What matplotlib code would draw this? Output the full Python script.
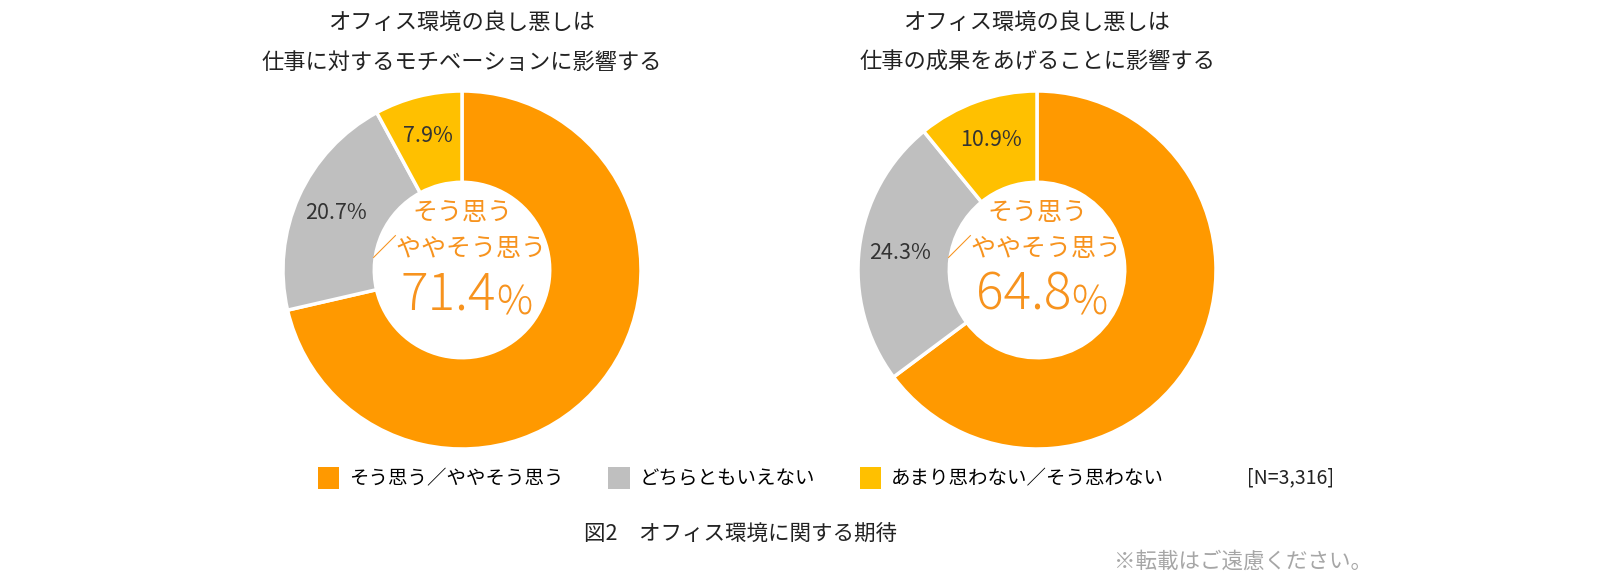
import numpy as np
import matplotlib
matplotlib.use("Agg")
from matplotlib import pyplot as plt
from matplotlib.patches import Patch

plt.rcParams['font.family'] = ['Noto Sans CJK JP', 'DejaVu Sans']

categories = ['そう思う／ややそう思う', 'どちらともいえない', 'あまり思わない／そう思わない']
titles = ['オフィス環境の良し悪しは\n仕事に対するモチベーションに影響する',
          'オフィス環境の良し悪しは\n仕事の成果をあげることに影響する']
motivation = [71.4, 20.7, 7.9]
performance = [64.8, 24.3, 10.9]
n_label = '[N=3,316]'
caption = '図2\u3000オフィス環境に関する期待'
note = '※転載はご遠慮ください。'

colors = ['#FF9900', '#BFBFBF', '#FFC000']
orange_txt = '#F7931E'

W, H = 1600, 588
fig = plt.figure(figsize=(W / 100, H / 100), dpi=100)
fig.patch.set_facecolor('white')


def donut(cx, cy, r, values, title):
    pad = 1.03
    ax = fig.add_axes([(cx - r * pad) / W, 1 - (cy + r * pad) / H,
                       2 * r * pad / W, 2 * r * pad / H])
    wedges, _ = ax.pie(values, colors=colors, startangle=90, counterclock=False,
                       radius=1, wedgeprops=dict(width=0.51, edgecolor='white',
                                                 linewidth=2.5))
    ax.set_xlim(-pad, pad)
    ax.set_ylim(-pad, pad)
    ax.set_aspect('equal')
    ax.axis('off')
    # percentage labels on the small slices
    for w, v in zip(wedges[1:], values[1:]):
        ang = np.deg2rad((w.theta1 + w.theta2) / 2)
        ax.text(0.77 * np.cos(ang), 0.77 * np.sin(ang), f'{v:.1f}%',
                ha='center', va='center', fontsize=15.5, color='#333333')
    ax.text(0, 0.32, 'そう思う', ha='center', va='center',
            fontsize=18, color=orange_txt)
    ax.text(-0.02, 0.12, '／ややそう思う', ha='center', va='center',
            fontsize=18, color=orange_txt)
    big = ax.text(0.19, -0.14, f'{values[0]:.1f}', ha='right', va='center',
                  fontsize=37, color=orange_txt, fontweight='light')
    ax.annotate('%', xy=(1, 0.14), xycoords=big, va='baseline', ha='left',
                fontsize=29, color=orange_txt, fontweight='light')
    fig.text(cx / W, 1 - 42 / H, title, ha='center', va='center',
             fontsize=16, color='#222222', linespacing=1.95)
    return wedges


wedges = donut(462, 270, 179, motivation, titles[0])
donut(1037, 270, 179, performance, titles[1])

handles = [Patch(facecolor=c, edgecolor='none') for c in colors]
fig.legend(handles, categories, loc='center left', ncol=3,
           bbox_to_anchor=(318 / W, 1 - 478 / H), frameon=False,
           fontsize=14, handlelength=1.1, handleheight=1.4,
           handletextpad=0.5, columnspacing=2.3, borderaxespad=0,
           borderpad=0)
fig.text(1247 / W, 1 - 478 / H, n_label, ha='left', va='center',
         fontsize=14, color='#222222')
fig.text(741 / W, 1 - 534 / H, caption, ha='center', va='center',
         fontsize=15.5, color='#222222')
fig.text(1372 / W, 1 - 562 / H, note, ha='right', va='center',
         fontsize=15.5, color='#A6A6A6')

fig.savefig('out.png', dpi=100, facecolor='white')
